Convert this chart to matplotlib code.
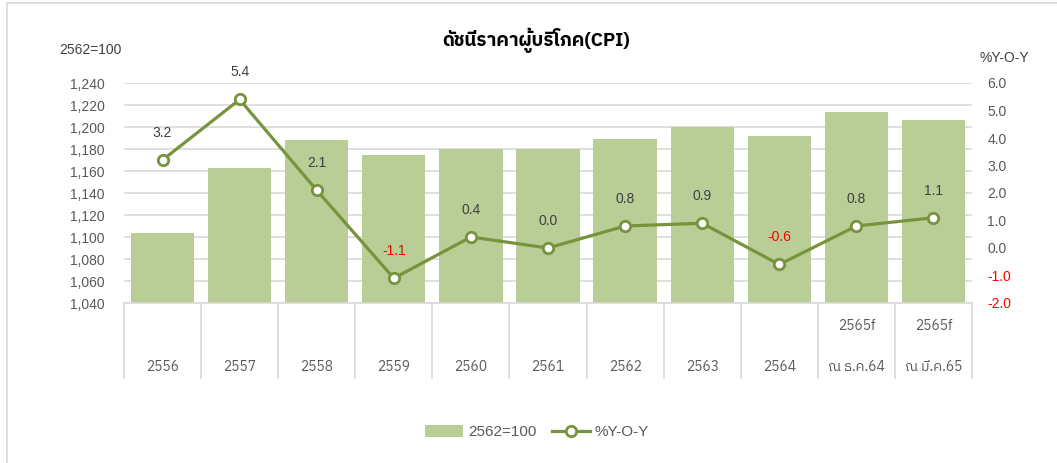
import matplotlib
matplotlib.use('Agg')
import matplotlib.pyplot as plt
import matplotlib.transforms as mtransforms
from matplotlib import font_manager
from matplotlib.ft2font import FT2Font
from matplotlib.lines import Line2D
from matplotlib.patches import Patch, Rectangle
import numpy as np

# data
years = ['2556', '2557', '2558', '2559', '2560', '2561', '2562', '2563', '2564', '2565f', '2565f']
sub_labels = ['', '', '', '', '', '', '', '', '', 'ณ ธ.ค.64', 'ณ มี.ค.65']
cpi = [1104, 1163, 1188, 1175, 1180, 1180, 1189, 1200, 1192, 1214, 1206]
yoy = [3.2, 5.4, 2.1, -1.1, 0.4, 0.0, 0.8, 0.9, -0.6, 0.8, 1.1]


# find an installed font that has Thai glyphs
def find_thai_font():
    found = []
    for f in font_manager.fontManager.ttflist:
        try:
            cmap = FT2Font(f.fname).get_charmap()
        except Exception:
            continue
        if 0x0E14 in cmap and 0x0E35 in cmap:
            found.append(f.name)
    found = sorted(set(found), key=lambda n: (0 if 'Thai' in n else 1, n))
    return found[0] if found else None


thai = find_thai_font()
num_font = ['Liberation Sans', 'DejaVu Sans']
thai_font = ([thai] if thai else []) + num_font
plt.rcParams['font.family'] = num_font

bar_color = '#B9CE97'
line_color = '#77933C'
grid_color = '#D9D9D9'
text_color = '#595959'

fig = plt.figure(figsize=(10.57, 4.63), dpi=100)
W, H = 1057, 463
ax = fig.add_axes([124 / W, 1 - 303 / H, (972 - 124) / W, 220 / H])

# outer chart border
fig.patches.append(Rectangle((7 / W, -0.1), 1.2, 1.1 - 3 / H, transform=fig.transFigure,
                             fill=False, edgecolor=grid_color, linewidth=1.2))

x = np.arange(len(years))
ax.bar(x, np.array(cpi) - 1040, bottom=1040, width=0.82, color=bar_color, zorder=2)
ax.set_xlim(-0.5, len(years) - 0.5)
ax.set_ylim(1040, 1240)
ax.set_yticks(np.arange(1040, 1241, 20))
ax.set_yticklabels([f'{v:,}' for v in range(1040, 1241, 20)])
ax.yaxis.grid(True, color=grid_color, linewidth=1.2, zorder=0)
ax.set_axisbelow(True)
ax.tick_params(axis='y', length=0, pad=14, labelsize=10, labelcolor=text_color)
ax.set_xticks([])
for s in ['top', 'left', 'right']:
    ax.spines[s].set_visible(False)
ax.spines['bottom'].set_color(grid_color)
ax.spines['bottom'].set_linewidth(1.2)

# category axis: separators and two-level labels
trans = mtransforms.blended_transform_factory(ax.transData, ax.transAxes)
for b in np.arange(-0.5, len(years), 1.0):
    ax.plot([b, b], [0, -0.341], transform=trans, color=grid_color, lw=1.2, clip_on=False)
for i, (yr, sub) in enumerate(zip(years, sub_labels)):
    if sub:
        ax.text(i, -0.105, yr, transform=trans, ha='center', va='center',
                fontsize=10, color=text_color, family=thai_font)
        ax.text(i, -0.29, sub, transform=trans, ha='center', va='center',
                fontsize=10, color=text_color, family=thai_font)
    else:
        ax.text(i, -0.29, yr, transform=trans, ha='center', va='center',
                fontsize=10, color=text_color, family=thai_font)

# secondary axis with the YoY line
ax2 = ax.twinx()
ax2.set_ylim(-2, 6)
ax2.set_yticks(np.arange(-2, 6.1, 1))
ax2.set_yticklabels([f'{v:.1f}' for v in np.arange(-2, 6.1, 1)])
ax2.tick_params(axis='y', length=0, pad=11, labelsize=10, labelcolor=text_color)
for lbl, v in zip(ax2.get_yticklabels(), np.arange(-2, 6.1, 1)):
    if v < 0:
        lbl.set_color('#FF0000')
for s in ax2.spines.values():
    s.set_visible(False)
ax2.plot(x, yoy, color=line_color, lw=2.3, marker='o', markersize=7.5,
         markerfacecolor='white', markeredgecolor=line_color, markeredgewidth=2, zorder=3)
for i, v in enumerate(yoy):
    ax2.annotate(f'{v:.1f}', (i, v), xytext=(0, 19.5), textcoords='offset points',
                 ha='center', va='center', fontsize=10,
                 color='#FF0000' if v < 0 else '#404040')

# titles and axis captions
fig.text(536 / W, 1 - 40 / H, 'ดัชนีราคาผู้บริโภค(CPI)', ha='center', va='center',
         fontsize=13.5, fontweight='bold', color='#000000', family=thai_font)
fig.text(59 / W, 1 - 50 / H, '2562=100', ha='left', va='center', fontsize=10, color='#404040')
fig.text(980 / W, 1 - 58 / H, '%Y-O-Y', ha='left', va='center', fontsize=10, color='#404040')

handles = [Patch(facecolor=bar_color, edgecolor='none', label='2562=100'),
           Line2D([0], [0], color=line_color, lw=2.3, marker='o', markersize=7.5,
                  markerfacecolor='white', markeredgecolor=line_color,
                  markeredgewidth=2, label='%Y-O-Y')]
fig.legend(handles=handles, loc='center', bbox_to_anchor=(537 / W, 1 - 432 / H), ncol=2,
           frameon=False, fontsize=11, handlelength=2.5, handleheight=0.9,
           handletextpad=0.3, columnspacing=1.0, labelcolor='#595959')

fig.savefig('out.png', dpi=100)
